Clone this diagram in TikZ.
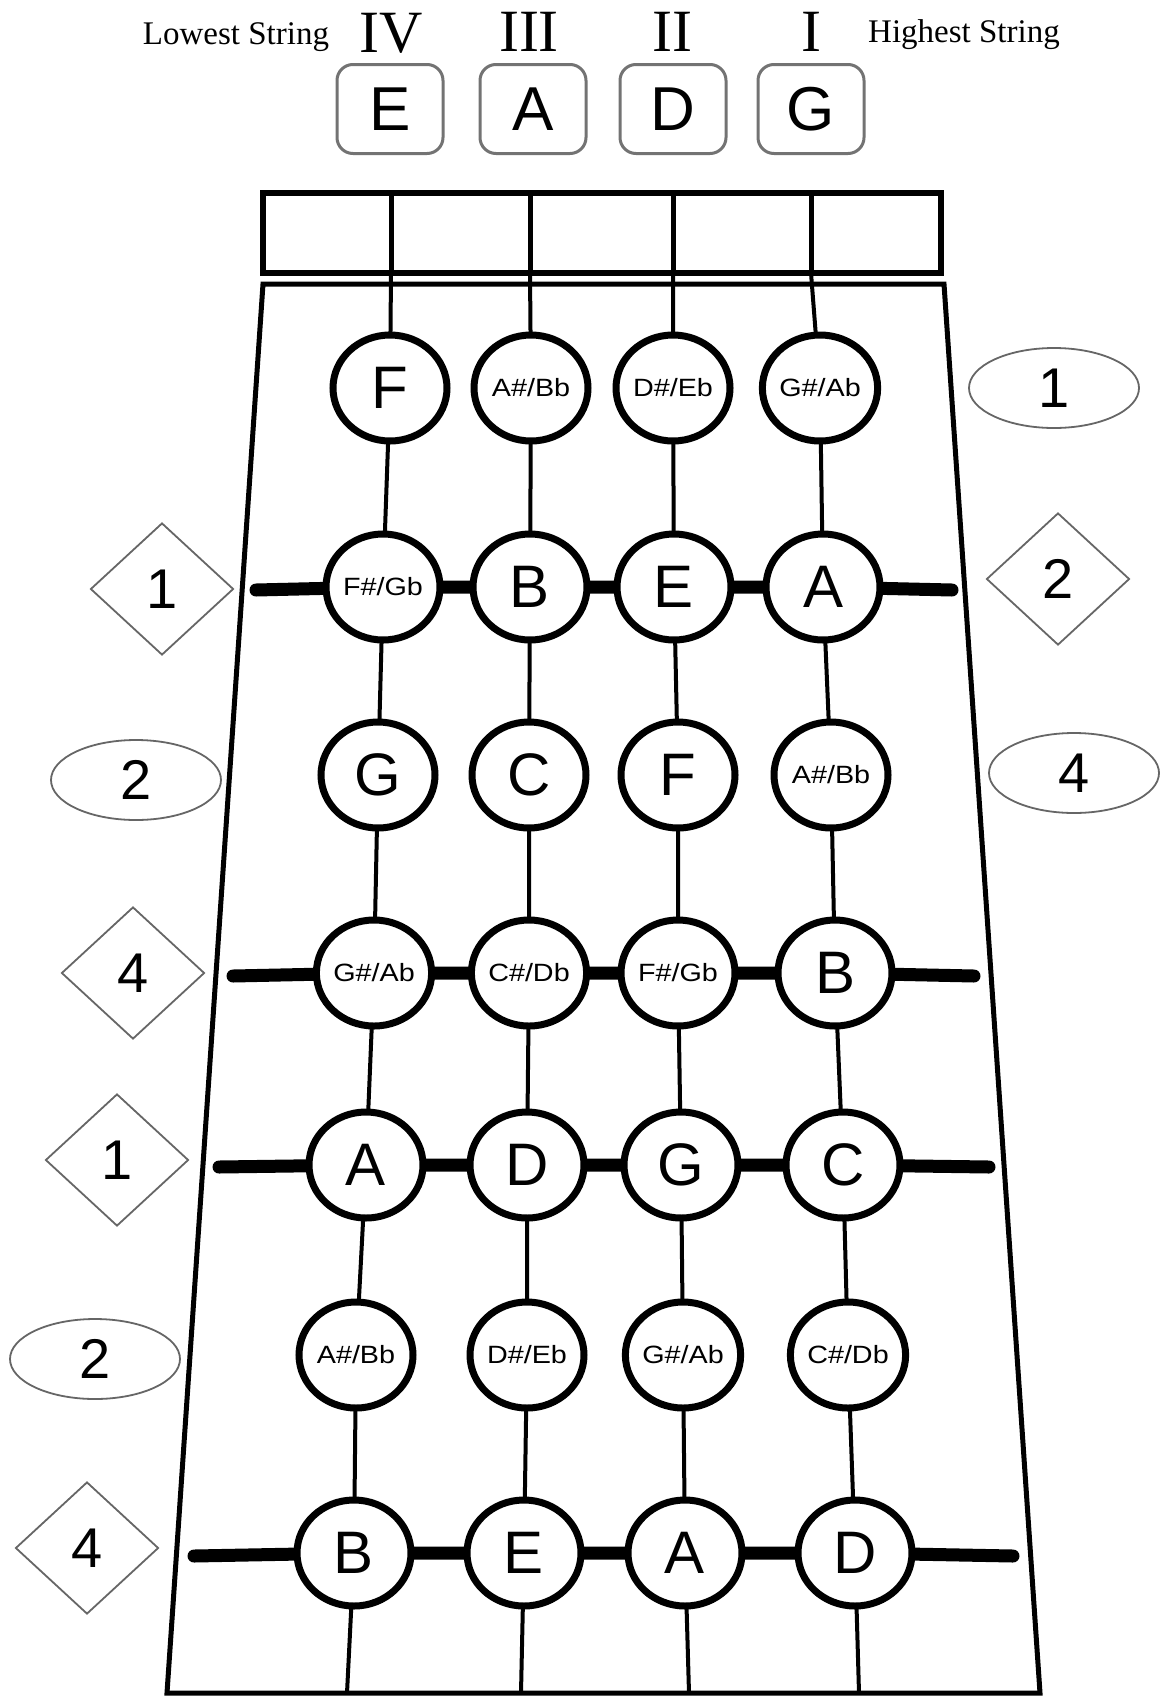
\documentclass[tikz,border=0pt]{standalone}
\usepackage{fontspec}
\setmainfont{Liberation Sans}
\newfontfamily\serifx{Liberation Serif}
\newfontfamily\widesans[FakeStretch=1.15]{Liberation Sans}
\newfontfamily\digitsans{Liberation Sans}
\usetikzlibrary{shapes.geometric,backgrounds}
\begin{document}
\begin{tikzpicture}[x=1pt,y=-1pt,
 note/.style={ellipse, draw, line width=7pt, fill=white, minimum width=114pt, minimum height=106pt, inner sep=0pt, font=\fontsize{60}{60}\selectfont},
 acc/.style={note, font=\widesans\fontsize{25}{25}\selectfont},
 tunebox/.style={draw=black!55, line width=3pt, rounded corners=16pt, minimum width=106pt, minimum height=89pt, inner sep=0pt, font=\fontsize{62}{62}\selectfont},
 roman/.style={font=\serifx\fontsize{60}{60}\selectfont, anchor=base, inner sep=0pt},
 toplabel/.style={font=\serifx\fontsize{33}{33}\selectfont, anchor=base, inner sep=0pt},
 fingerdia/.style={diamond, draw=black!60, line width=1.8pt, fill=white, minimum width=143pt, minimum height=132pt, inner sep=0pt, font=\digitsans\fontsize{56}{56}\selectfont},
 fingerell/.style={ellipse, draw=black!60, line width=1.8pt, fill=white, minimum width=170pt, minimum height=80pt, inner sep=0pt, font=\digitsans\fontsize{56}{56}\selectfont},
 stringline/.style={line width=4pt},
 nutline/.style={line width=5pt},
 fretbar/.style={line width=13pt, line cap=round},
 board/.style={line width=5pt, line join=miter}
]
\useasboundingbox (0,0) rectangle (1162,1700);

% top labels
\node[toplabel] (low) at (236,44) {Lowest String};
\node[toplabel] (high) at (964,42) {Highest String};
\node[roman] (r4) at (391,52) {IV};
\node[roman] (r3) at (529,51) {III};
\node[roman] (r2) at (672,51) {II};
\node[roman] (r1) at (811,51) {I};

% tuning boxes
\node[tunebox] (tE) at (390,109) {E};
\node[tunebox] (tA) at (533,109) {A};
\node[tunebox] (tD) at (673,109) {D};
\node[tunebox] (tG) at (811,109) {G};

% nut
\coordinate (nt1) at (391,193); \coordinate (nb1) at (391,273);
\coordinate (nt2) at (530,193); \coordinate (nb2) at (530,273);
\coordinate (nt3) at (673,193); \coordinate (nb3) at (673,273);
\coordinate (nt4) at (811,193); \coordinate (nb4) at (811,273);
\draw[line width=6pt] (263,193) rectangle (941,273);
\draw[nutline] (nt1) -- (nb1);
\draw[nutline] (nt2) -- (nb2);
\draw[nutline] (nt3) -- (nb3);
\draw[nutline] (nt4) -- (nb4);

% fingerboard
\coordinate (bTL) at (263,284);
\coordinate (bTR) at (944,284);
\coordinate (bBR) at (1040,1693);
\coordinate (bBL) at (167,1693);
\draw[board] (bTL) -- (bTR) -- (bBR) -- (bBL) -- cycle;

% note circles
\node[note] (c11) at (390,388) {F};
\node[acc]  (c12) at (531,388) {A\#/Bb};
\node[acc]  (c13) at (673,388) {D\#/Eb};
\node[acc]  (c14) at (820,388) {G\#/Ab};

\node[acc]  (c21) at (383,587) {F\#/Gb};
\node[note] (c22) at (530,587) {B};
\node[note] (c23) at (674,587) {E};
\node[note] (c24) at (823,587) {A};

\node[note] (c31) at (378,775) {G};
\node[note] (c32) at (529,775) {C};
\node[note] (c33) at (678,775) {F};
\node[acc]  (c34) at (831,775) {A\#/Bb};

\node[acc]  (c41) at (374,973) {G\#/Ab};
\node[acc]  (c42) at (529,973) {C\#/Db};
\node[acc]  (c43) at (678,973) {F\#/Gb};
\node[note] (c44) at (835,973) {B};

\node[note] (c51) at (366,1165) {A};
\node[note] (c52) at (527,1165) {D};
\node[note] (c53) at (681,1165) {G};
\node[note] (c54) at (843,1165) {C};

\node[acc]  (c61) at (356,1355) {A\#/Bb};
\node[acc]  (c62) at (527,1355) {D\#/Eb};
\node[acc]  (c63) at (683,1355) {G\#/Ab};
\node[acc]  (c64) at (848,1355) {C\#/Db};

\node[note] (c71) at (354,1553) {B};
\node[note] (c72) at (524,1553) {E};
\node[note] (c73) at (685,1553) {A};
\node[note] (c74) at (855,1553) {D};

% string ends at bottom
\coordinate (e1) at (347,1693);
\coordinate (e2) at (521,1693);
\coordinate (e3) at (689,1693);
\coordinate (e4) at (859,1693);

% fret bar ends
\coordinate (f2L) at (256,590); \coordinate (f2R) at (952,590);
\coordinate (f4L) at (233,976); \coordinate (f4R) at (974,976);
\coordinate (f5L) at (219,1167); \coordinate (f5R) at (989,1167);
\coordinate (f7L) at (194,1556); \coordinate (f7R) at (1013,1556);

\begin{pgfonlayer}{background}
\draw[stringline] (nb1) -- (c11.center) -- (c21.center) -- (c31.center) -- (c41.center) -- (c51.center) -- (c61.center) -- (c71.center) -- (e1);
\draw[stringline] (nb2) -- (c12.center) -- (c22.center) -- (c32.center) -- (c42.center) -- (c52.center) -- (c62.center) -- (c72.center) -- (e2);
\draw[stringline] (nb3) -- (c13.center) -- (c23.center) -- (c33.center) -- (c43.center) -- (c53.center) -- (c63.center) -- (c73.center) -- (e3);
\draw[stringline] (nb4) -- (c14.center) -- (c24.center) -- (c34.center) -- (c44.center) -- (c54.center) -- (c64.center) -- (c74.center) -- (e4);
\draw[fretbar] (f2L) -- (c21.center) -- (c22.center) -- (c23.center) -- (c24.center) -- (f2R);
\draw[fretbar] (f4L) -- (c41.center) -- (c42.center) -- (c43.center) -- (c44.center) -- (f4R);
\draw[fretbar] (f5L) -- (c51.center) -- (c52.center) -- (c53.center) -- (c54.center) -- (f5R);
\draw[fretbar] (f7L) -- (c71.center) -- (c72.center) -- (c73.center) -- (c74.center) -- (f7R);
\end{pgfonlayer}

% finger markers
\node[fingerell] (m1) at (1054,388) {1};
\node[fingerdia] (m2) at (1058,579) {2};
\node[fingerell] (m3) at (1074,773) {4};
\node[fingerdia] (m4) at (162,589) {1};
\node[fingerell] (m5) at (136,780) {2};
\node[fingerdia] (m6) at (133,973) {4};
\node[fingerdia] (m7) at (117,1160) {1};
\node[fingerell] (m8) at (95,1359) {2};
\node[fingerdia] (m9) at (87,1548) {4};
\end{tikzpicture}
\end{document}
